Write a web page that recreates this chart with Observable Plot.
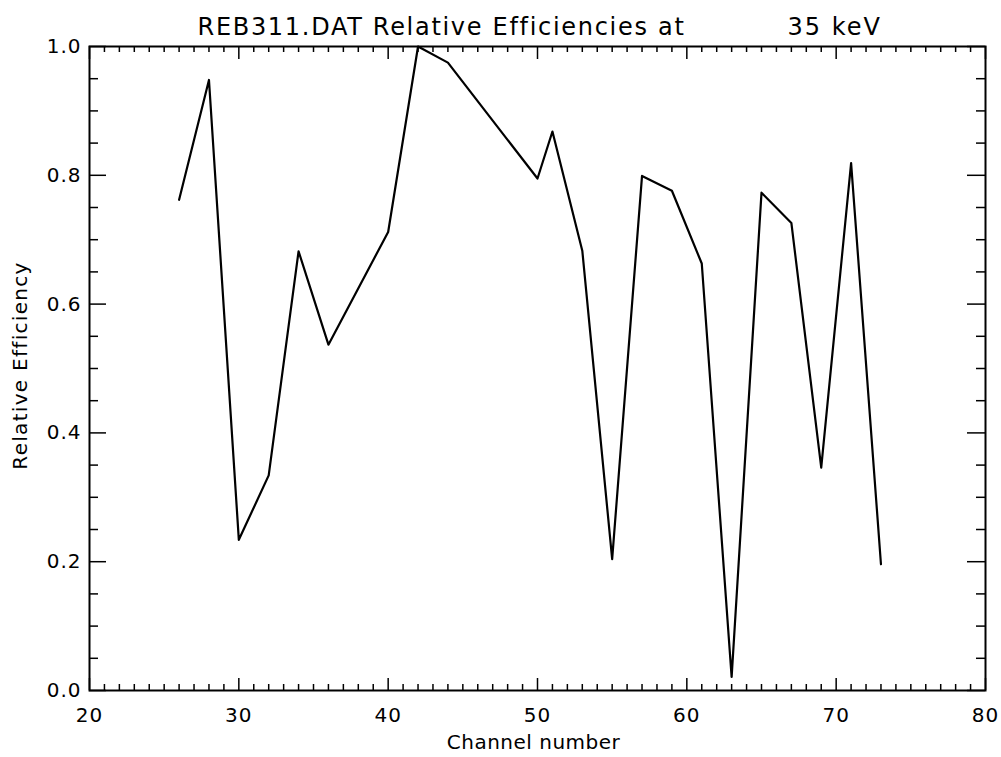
<!DOCTYPE html>
<html>
<head>
<meta charset="utf-8">
<script src="https://cdn.jsdelivr.net/npm/d3@7"></script>
<script src="https://cdn.jsdelivr.net/npm/@observablehq/plot@0.6"></script>
<style>
  html, body { margin: 0; padding: 0; background: #fff; }
  #chart svg { display: block; }
</style>
</head>
<body>
<div id="chart"></div>
<script>
// Data
const channels = [26, 28, 30, 32, 34, 36, 40, 42, 44, 50, 51, 53, 55, 57, 59, 61, 63, 65, 67, 69, 71, 73];
const efficiency = [0.762, 0.948, 0.234, 0.334, 0.682, 0.537, 0.712, 1.0, 0.975, 0.795, 0.868, 0.683, 0.204, 0.799, 0.776, 0.663, 0.021, 0.773, 0.726, 0.346, 0.819, 0.196];

const xTicks = [20, 30, 40, 50, 60, 70, 80];
const yTicks = [0.0, 0.2, 0.4, 0.6, 0.8, 1.0];
const xMinor = d3.range(20, 81, 1).filter(v => v % 10 !== 0);
const yMinor = d3.range(0, 21, 1).map(i => i / 20).filter((v, i) => i % 4 !== 0);

const titleMain = "REB311.DAT Relative Efficiencies at";
const titleEnergy = "35 keV";
const xLabel = "Channel number";
const yLabel = "Relative Efficiency";

const data = channels.map((c, i) => ({channel: c, eff: efficiency[i]}));

const W = 1001, H = 757;
const mL = 89, mR = 16, mT = 46, mB = 67;
const innerW = W - mL - mR, innerH = H - mT - mB;
const font = "DejaVu Sans";

const chart = Plot.plot({
  width: W,
  height: H,
  marginLeft: mL,
  marginRight: mR,
  marginTop: mT,
  marginBottom: mB,
  style: {fontFamily: font, color: "#000", background: "#fff"},
  x: {domain: [20, 80]},
  y: {domain: [0, 1]},
  marks: [
    // bottom ticks
    Plot.tickX(xTicks, {x: d => d, insetTop: innerH - 12, stroke: "#000", strokeWidth: 1.5}),
    Plot.tickX(xMinor, {x: d => d, insetTop: innerH - 6, stroke: "#000", strokeWidth: 1.5}),
    // top ticks
    Plot.tickX(xTicks, {x: d => d, insetBottom: innerH - 13, stroke: "#000", strokeWidth: 1.5}),
    Plot.tickX(xMinor, {x: d => d, insetBottom: innerH - 6, stroke: "#000", strokeWidth: 1.5}),
    // left ticks
    Plot.tickY(yTicks, {y: d => d, insetRight: innerW - 17, stroke: "#000", strokeWidth: 1.5}),
    Plot.tickY(yMinor, {y: d => d, insetRight: innerW - 9, stroke: "#000", strokeWidth: 1.5}),
    // right ticks
    Plot.tickY(yTicks, {y: d => d, insetLeft: innerW - 18, stroke: "#000", strokeWidth: 1.5}),
    Plot.tickY(yMinor, {y: d => d, insetLeft: innerW - 9, stroke: "#000", strokeWidth: 1.5}),
    Plot.axisX({ticks: xTicks, tickSize: 0, tickPadding: 17, fontSize: 20, label: null}),
    Plot.axisY({ticks: yTicks, tickSize: 0, tickPadding: 8, fontSize: 20, tickFormat: d3.format(".1f"), label: null}),
    Plot.frame({stroke: "#000", strokeWidth: 2}),
    Plot.line(data, {x: "channel", y: "eff", stroke: "#000", strokeWidth: 2.2}),
    // titles and axis labels
    Plot.text([titleMain], {frameAnchor: "top-left", dx: 197 - mL, dy: -12, lineAnchor: "bottom", textAnchor: "start", fontSize: 24, fill: "#000"}),
    Plot.text([titleEnergy], {frameAnchor: "top-left", dx: 787 - mL, dy: -12, lineAnchor: "bottom", textAnchor: "start", fontSize: 24, fill: "#000"}),
    Plot.text([xLabel], {frameAnchor: "bottom", dx: -4, dy: 58, lineAnchor: "bottom", textAnchor: "middle", fontSize: 20, fill: "#000"}),
    Plot.text([yLabel], {frameAnchor: "left", dx: -77, dy: -3, rotate: -90, lineAnchor: "top", textAnchor: "middle", fontSize: 20, fill: "#000"})
  ]
});

// widen the lettering to match the reference's stroke font
const spacing = new Map([[titleMain, 1.7], [titleEnergy, 2], [xLabel, 0.5], [yLabel, 1.3]]);
d3.select(chart).selectAll("text").each(function () {
  const t = this.textContent;
  if (spacing.has(t)) this.style.letterSpacing = spacing.get(t) + "px";
});
d3.select(chart).selectAll('g[aria-label$="tick label"] text').style("letter-spacing", "1px");

document.getElementById("chart").appendChild(chart);
</script>
</body>
</html>
